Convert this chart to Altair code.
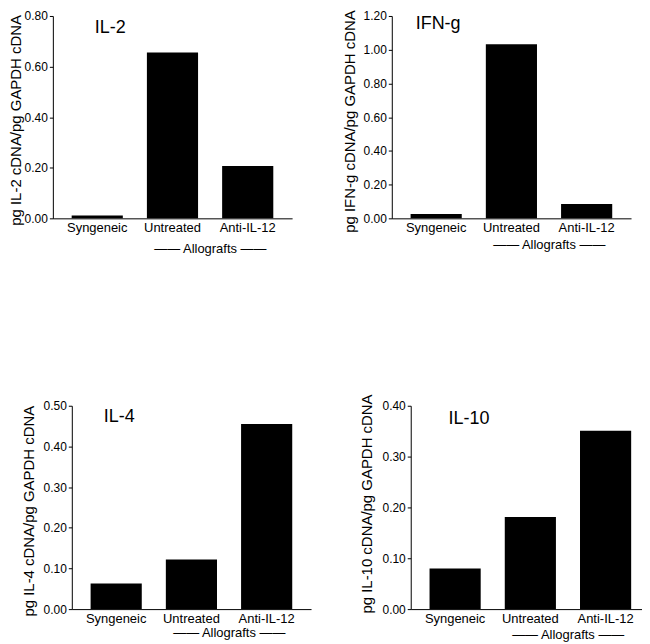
import altair as alt
import pandas as pd

FONT = "Liberation Sans"

categories = ["Syngeneic", "Untreated", "Anti-IL-12"]
il2_values = [0.011, 0.656, 0.207]
ifng_values = [0.025, 1.032, 0.085]
il4_values = [0.063, 0.122, 0.455]
il10_values = [0.080, 0.181, 0.351]

il2_ticks = [0.0, 0.2, 0.4, 0.6, 0.8]
ifng_ticks = [0.0, 0.2, 0.4, 0.6, 0.8, 1.0, 1.2]
il4_ticks = [0.0, 0.1, 0.2, 0.3, 0.4, 0.5]
il10_ticks = [0.0, 0.1, 0.2, 0.3, 0.4]

group_label = "\u2014\u2014   Allografts   \u2014\u2014"

PLOT_W = 240


def panel(name, values, ytitle, ticks, height, name_x, name_y, title_x, title_bottom,
          allo_dy, shift=0):
    df = pd.DataFrame({"group": categories, "value": values})
    xscale = alt.Scale(paddingInner=0.32, paddingOuter=0.25)
    if shift:
        xscale = alt.Scale(paddingInner=0.32, paddingOuter=0.25, range=[shift, shift + PLOT_W])
    xenc = alt.X(
        "group:N",
        sort=categories,
        scale=xscale,
        axis=alt.Axis(
            title=None, labelAngle=0, ticks=False, labelPadding=3.5,
            labelFontSize=13, labelColor="black", labelFont=FONT,
            domainColor="black", domainWidth=1,
        ),
    )
    yaxis = dict(
        values=ticks, tickCount=len(ticks), format=".2f", title=ytitle, grid=False,
        titleFont=FONT, titleFontSize=15, titleFontWeight="normal",
        titleColor="black", titleAlign="left", titleAngle=270, titleBaseline="top",
        titleX=title_x, titleY=height + title_bottom,
        tickSize=3.5, tickColor="black", labelPadding=2,
        labelFont=FONT, labelFontSize=12, labelColor="black", labelOverlap=False,
        domainColor="black", domainWidth=1,
    )
    if shift:
        yaxis["offset"] = -shift
    yenc = alt.Y(
        "value:Q",
        scale=alt.Scale(domain=[ticks[0], ticks[-1]], nice=False),
        axis=alt.Axis(**yaxis),
    )
    bars = alt.Chart(df).mark_bar(color="black").encode(x=xenc, y=yenc)
    label_df = pd.DataFrame({"panel": [name]})
    label = alt.Chart(label_df).mark_text(
        align="left", baseline="middle", fontSize=18, font=FONT, color="black"
    ).encode(x=alt.value(name_x + shift), y=alt.value(name_y), text="panel:N")
    allo_df = pd.DataFrame({"group": ["Untreated"], "label": [group_label]})
    allo = alt.Chart(allo_df).mark_text(
        dx=38, dy=allo_dy, baseline="middle", fontSize=13, font=FONT, color="black"
    ).encode(x=xenc, y=alt.datum(0), text="label:N")
    return alt.layer(bars, label, allo).properties(width=PLOT_W + shift, height=height)


p_il2 = panel("IL-2", il2_values, "pg IL-2 cDNA/pg GAPDH cDNA", il2_ticks, 203,
              42, 12, -44, 7, 31)
p_ifng = panel("IFN-g", ifng_values, "pg IFN-g cDNA/pg GAPDH cDNA", ifng_ticks, 203,
               24, 8, -49, 14, 27)
p_il4 = panel("IL-4", il4_values, "pg IL-4 cDNA/pg GAPDH cDNA", il4_ticks, 204,
              32, 11, -50, 7, 24, shift=19)
p_il10 = panel("IL-10", il10_values, "pg IL-10 cDNA/pg GAPDH cDNA", il10_ticks, 204,
               38, 13, -51, 4, 26, shift=19)

chart = alt.concat(
    p_il2, p_ifng, p_il4, p_il10,
    columns=2, spacing={"row": 188, "column": 81}, bounds="flush",
).properties(
    padding={"left": 0, "top": 0, "right": -8, "bottom": -1}
).configure_view(strokeWidth=0)

chart.save("out.html", embed_options={"renderer": "svg", "actions": False})
